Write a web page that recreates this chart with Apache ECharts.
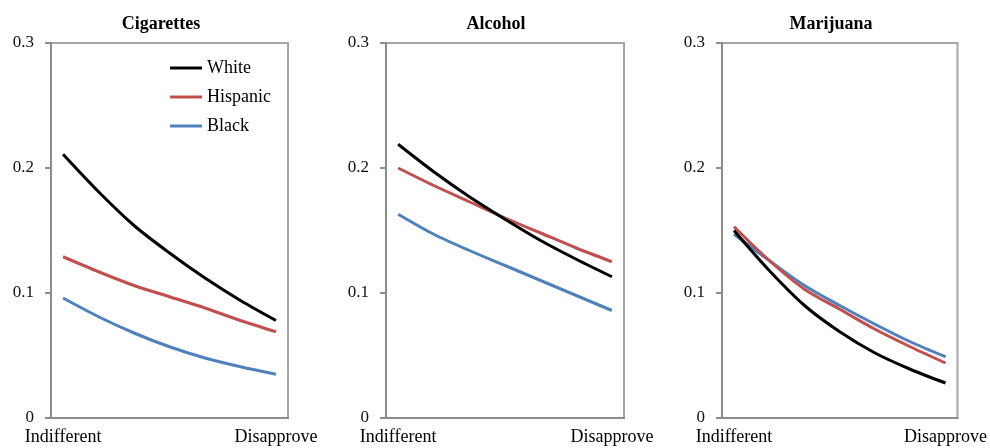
<!DOCTYPE html>
<html>
<head>
<meta charset="utf-8">
<script src="https://cdn.jsdelivr.net/npm/echarts@6/dist/echarts.min.js"></script>
<style>
  html, body { margin: 0; padding: 0; background: #fff; }
  #chart { width: 990px; height: 448px; }
</style>
</head>
<body>
<div id="chart"></div>
<script>
// data (7 evenly spaced points from Indifferent to Disapprove)
const xSteps = [0, 1, 2, 3, 4, 5, 6];
const panelTitles = ['Cigarettes', 'Alcohol', 'Marijuana'];
const groupNames = ['White', 'Hispanic', 'Black'];
const xEndLabels = ['Indifferent', 'Disapprove'];
const yTicks = [0, 0.1, 0.2, 0.3];

const cigWhite = [0.211, 0.181, 0.154, 0.132, 0.112, 0.094, 0.078];
const cigHispanic = [0.129, 0.117, 0.106, 0.097, 0.088, 0.078, 0.069];
const cigBlack = [0.096, 0.081, 0.068, 0.057, 0.048, 0.041, 0.035];

const alcWhite = [0.219, 0.197, 0.177, 0.159, 0.142, 0.127, 0.113];
const alcHispanic = [0.200, 0.186, 0.173, 0.160, 0.148, 0.136, 0.125];
const alcBlack = [0.163, 0.147, 0.134, 0.122, 0.110, 0.098, 0.086];

const marWhite = [0.150, 0.118, 0.090, 0.069, 0.052, 0.039, 0.028];
const marHispanic = [0.153, 0.126, 0.103, 0.087, 0.071, 0.057, 0.044];
const marBlack = [0.147, 0.126, 0.106, 0.090, 0.075, 0.061, 0.049];

const panelData = [
  [cigWhite, cigHispanic, cigBlack],
  [alcWhite, alcHispanic, alcBlack],
  [marWhite, marHispanic, marBlack],
];

const lineColors = ['#000000', '#c0504d', '#4f81bd'];
const FONT = '"Liberation Serif", "DejaVu Serif", serif';

// plot boxes in px
const boxes = [
  { left: 51, width: 237 },
  { left: 386, width: 238 },
  { left: 722, width: 237 },
];
const titleCenters = [156, 491, 826];

let myChart = echarts.init(document.getElementById('chart'));

let grids = [], xAxes = [], yAxes = [], series = [], titles = [];
boxes.forEach((b, i) => {
  grids.push({
    left: b.left,
    width: b.width,
    top: 43,
    height: 375,
    show: true,
    borderColor: '#a6a6a6',
    borderWidth: 2,
    backgroundColor: '#fff',
  });
  titles.push({
    text: panelTitles[i],
    left: titleCenters[i],
    top: 10,
    textAlign: 'center',
    textStyle: { fontFamily: FONT, fontWeight: 'bold', fontSize: 18, color: '#000' },
  });
  xAxes.push({
    type: 'value',
    gridIndex: i,
    min: -0.34,
    max: 6.34,
    splitLine: { show: false },
    axisTick: { show: false },
    axisLine: { show: true, onZero: false, lineStyle: { color: '#8c8c8c', width: 2 } },
    axisLabel: {
      customValues: [xSteps[0], xSteps[xSteps.length - 1]],
      formatter: (v) => (v === xSteps[0] ? xEndLabels[0] : xEndLabels[1]),
      fontFamily: FONT,
      fontSize: 18,
      color: '#000',
      margin: 10,
    },
  });
  yAxes.push({
    type: 'value',
    gridIndex: i,
    min: yTicks[0],
    max: yTicks[yTicks.length - 1],
    interval: 0.1,
    splitLine: { show: false },
    // keep the y axis at the left edge, not at x = 0
    axisLine: { show: true, onZero: false, lineStyle: { color: '#8c8c8c', width: 2 } },
    axisTick: { show: true, inside: false, length: 6, lineStyle: { color: '#8c8c8c', width: 2 } },
    axisLabel: {
      fontFamily: FONT,
      fontSize: 17,
      color: '#111',
      margin: 17,
      formatter: (v) => (v === 0 ? '0' : v.toFixed(1)),
    },
  });
  // draw Black first so White ends on top
  for (let k = groupNames.length - 1; k >= 0; k--) {
    series.push({
      name: groupNames[k],
      type: 'line',
      xAxisIndex: i,
      yAxisIndex: i,
      smooth: 0.3,
      showSymbol: false,
      silent: true,
      color: lineColors[k],
      lineStyle: { width: 3, color: lineColors[k] },
      data: xSteps.map((x, j) => [x, panelData[i][k][j]]),
    });
  }
});

let option = {
  animation: false,
  title: titles,
  legend: {
    data: groupNames,
    orient: 'vertical',
    left: 165,
    top: 54,
    itemWidth: 32,
    itemHeight: 3,
    itemGap: 11,
    icon: 'rect',
    textStyle: { fontFamily: FONT, fontSize: 18, color: '#000' },
  },
  grid: grids,
  xAxis: xAxes,
  yAxis: yAxes,
  series: series,
};

myChart.setOption(option, true);
window.addEventListener('resize', () => {
  myChart.resize();
});
</script>
</body>
</html>
